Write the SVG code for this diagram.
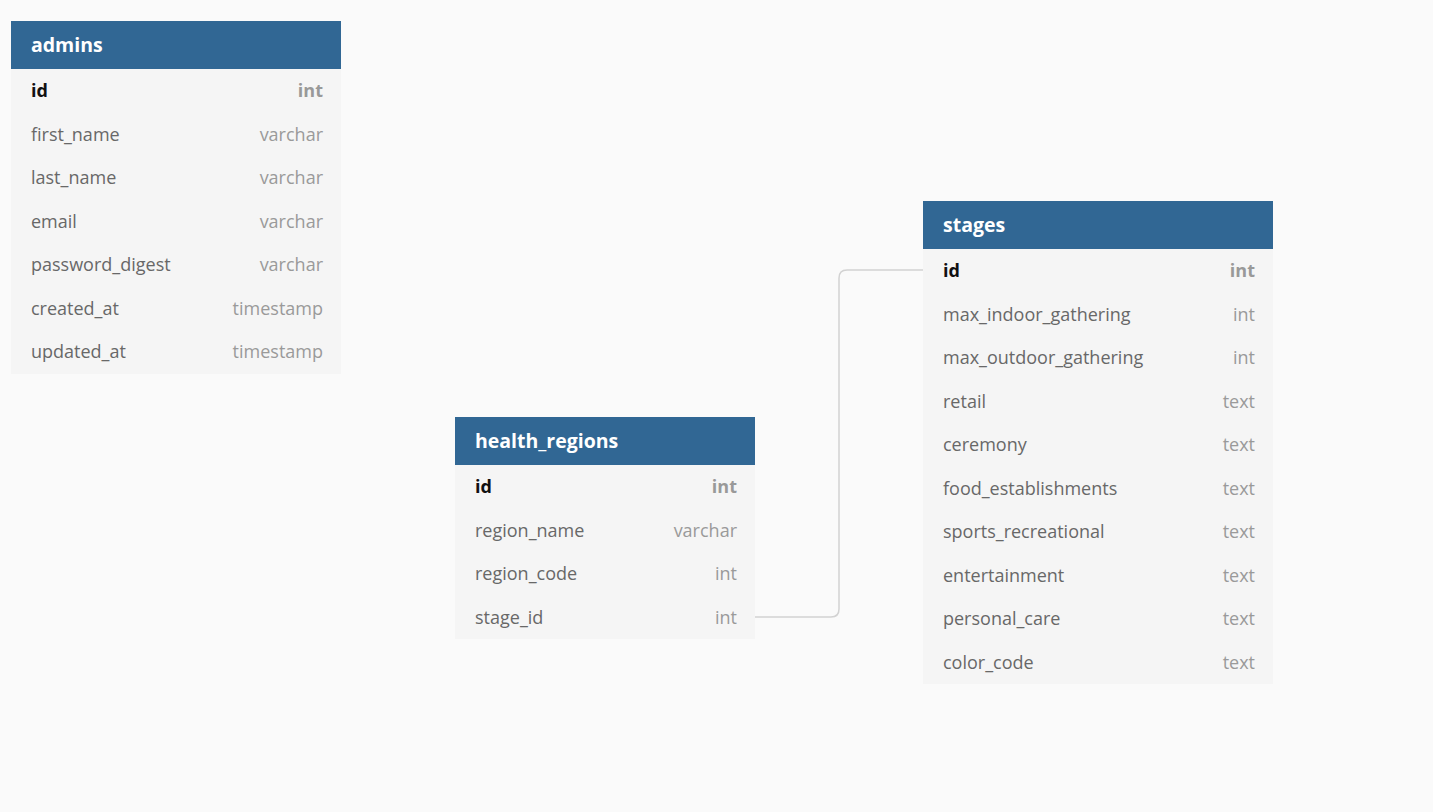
<svg xmlns="http://www.w3.org/2000/svg" width="1433" height="812" viewBox="0 0 1433 812">
<style>
text{font-family:"Open Sans","Noto Sans","Liberation Sans",sans-serif;font-size:18px}
.hd{fill:#316794}
.bd{fill:#f5f5f5}
.ht{fill:#ffffff;font-weight:bold;font-size:19.5px}
.pk{fill:#111;font-weight:bold}
.pkt{fill:#999;font-weight:bold;text-anchor:end}
.fn{fill:#686868}
.ft{fill:#9a9a9a;text-anchor:end}
.conn{fill:none;stroke:#d2d2d2;stroke-width:1.5}
</style>
<rect width="1433" height="812" fill="#fafafa"/>
<g id="connectors">
<path class="conn" d="M755 617 H831 Q839 617 839 609 V278 Q839 270 847 270 H923"/>
</g>
<g id="admins">
<rect class="bd" x="11" y="69" width="330" height="305"/>
<rect class="hd" x="11" y="21" width="330" height="48"/>
<text class="ht" x="31" y="52">admins</text>
<text class="pk" x="31" y="97">id</text><text class="pkt" x="323" y="97">int</text>
<text class="fn" x="31" y="141">first_name</text><text class="ft" x="323" y="141">varchar</text>
<text class="fn" x="31" y="184">last_name</text><text class="ft" x="323" y="184">varchar</text>
<text class="fn" x="31" y="228">email</text><text class="ft" x="323" y="228">varchar</text>
<text class="fn" x="31" y="271">password_digest</text><text class="ft" x="323" y="271">varchar</text>
<text class="fn" x="31" y="315">created_at</text><text class="ft" x="323" y="315">timestamp</text>
<text class="fn" x="31" y="358">updated_at</text><text class="ft" x="323" y="358">timestamp</text>
</g>
<g id="health_regions">
<rect class="bd" x="455" y="465" width="300" height="174"/>
<rect class="hd" x="455" y="417" width="300" height="48"/>
<text class="ht" x="475" y="448">health_regions</text>
<text class="pk" x="475" y="493">id</text><text class="pkt" x="737" y="493">int</text>
<text class="fn" x="475" y="537">region_name</text><text class="ft" x="737" y="537">varchar</text>
<text class="fn" x="475" y="580">region_code</text><text class="ft" x="737" y="580">int</text>
<text class="fn" x="475" y="624">stage_id</text><text class="ft" x="737" y="624">int</text>
</g>
<g id="stages">
<rect class="bd" x="923" y="249" width="350" height="435"/>
<rect class="hd" x="923" y="201" width="350" height="48"/>
<text class="ht" x="943" y="232">stages</text>
<text class="pk" x="943" y="277">id</text><text class="pkt" x="1255" y="277">int</text>
<text class="fn" x="943" y="321">max_indoor_gathering</text><text class="ft" x="1255" y="321">int</text>
<text class="fn" x="943" y="364">max_outdoor_gathering</text><text class="ft" x="1255" y="364">int</text>
<text class="fn" x="943" y="408">retail</text><text class="ft" x="1255" y="408">text</text>
<text class="fn" x="943" y="451">ceremony</text><text class="ft" x="1255" y="451">text</text>
<text class="fn" x="943" y="495">food_establishments</text><text class="ft" x="1255" y="495">text</text>
<text class="fn" x="943" y="538">sports_recreational</text><text class="ft" x="1255" y="538">text</text>
<text class="fn" x="943" y="582">entertainment</text><text class="ft" x="1255" y="582">text</text>
<text class="fn" x="943" y="625">personal_care</text><text class="ft" x="1255" y="625">text</text>
<text class="fn" x="943" y="669">color_code</text><text class="ft" x="1255" y="669">text</text>
</g>
</svg>
